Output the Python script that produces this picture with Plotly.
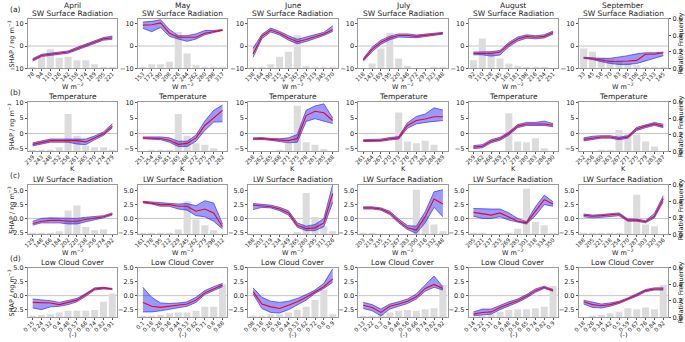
import plotly.graph_objects as go

months = ["April", "May", "June", "July", "August", "September"]
row_titles = ["SW Surface Radiation", "Temperature", "LW Surface Radiation", "Low Cloud Cover"]
row_letters = ["(a)", "(b)", "(c)", "(d)"]
x_units = ["W m<sup>−2</sup>", "K", "W m<sup>−2</sup>", "(-)"]

# ---------------- SW surface radiation ----------------
sw_bins = [
    ["78", "94", "110", "126", "142", "158", "174", "189", "205", "221"],
    ["153", "172", "190", "208", "226", "244", "262", "280", "298", "317"],
    ["138", "164", "190", "215", "241", "267", "293", "319", "345", "370"],
    ["118", "143", "169", "195", "220", "246", "272", "297", "323", "348"],
    ["92", "110", "128", "145", "163", "181", "198", "216", "234", "251"],
    ["33", "45", "58", "70", "83", "95", "108", "120", "133", "145"]]
sw_mean = [
    [-6.2, -4.2, -3.7, -3.3, -2.7, -1.2, 0.3, 1.8, 3.2, 3.7],
    [9.3, 9.5, 10.3, 5.7, 3.9, 3.9, 3.9, 5.7, 6.4, 7.1],
    [-3.6, 4.3, 7.1, 5.7, 3.6, 1.9, 2.9, 4.0, 5.4, 7.4],
    [-6.2, -1.5, 1.7, 3.6, 4.7, 4.7, 4.3, 4.7, 5.3, 5.7],
    [-3.3, -3.3, -3.3, -2.7, 0.7, 3.1, 4.3, 3.9, 4.3, 6.0],
    [-5.2, -5.6, -6.2, -6.9, -6.9, -6.7, -6.4, -3.7, -3.7, -3.0]]
sw_low = [
    [-6.8, -4.7, -4.2, -3.8, -3.2, -1.8, -0.3, 1.2, 2.6, 3.0],
    [7.9, 6.4, 8.3, 4.3, 3.1, 2.1, 3.1, 5.0, 6.0, 6.9],
    [-5.0, 3.3, 6.3, 4.9, 2.6, 1.0, 2.0, 3.2, 4.7, 6.5],
    [-6.8, -2.5, 0.8, 2.8, 4.0, 4.0, 3.7, 4.2, 4.9, 5.3],
    [-3.9, -3.9, -4.5, -4.0, -0.3, 2.2, 3.5, 3.2, 3.6, 5.3],
    [-5.5, -6.0, -7.0, -7.8, -8.2, -8.2, -7.8, -6.7, -5.5, -4.3]]
sw_high = [
    [-5.6, -3.7, -3.2, -2.8, -2.2, -0.6, 0.9, 2.4, 3.8, 4.4],
    [10.7, 11.0, 11.7, 7.4, 4.6, 4.6, 5.4, 6.9, 6.9, 7.4],
    [-1.0, 5.2, 8.0, 6.5, 4.6, 3.0, 4.0, 5.0, 6.1, 9.0],
    [-5.6, -0.5, 2.6, 4.4, 5.4, 5.4, 4.9, 5.2, 5.7, 6.1],
    [-2.7, -2.7, -2.5, -2.0, 1.6, 4.0, 5.0, 4.6, 5.0, 6.7],
    [-5.0, -5.3, -5.5, -5.5, -5.0, -4.3, -3.5, -3.0, -3.0, -2.7]]
sw_freq = [
    [0.01, 0.14, 0.23, 0.13, 0.14, 0.10, 0.10, 0.05, 0.02, 0.01],
    [0.02, 0.05, 0.05, 0.08, 0.44, 0.18, 0.04, 0.01, 0.01, 0.01],
    [0.01, 0.01, 0.05, 0.14, 0.20, 0.40, 0.03, 0.01, 0.01, 0.02],
    [0.00, 0.06, 0.24, 0.43, 0.12, 0.03, 0.00, 0.00, 0.01, 0.01],
    [0.10, 0.36, 0.20, 0.12, 0.06, 0.03, 0.01, 0.01, 0.01, 0.00],
    [0.24, 0.20, 0.13, 0.11, 0.08, 0.06, 0.04, 0.02, 0.01, 0.01]]

# ---------------- Temperature ----------------
t_bins = [
    ["239", "243", "248", "252", "256", "261", "265", "270", "274", "279"],
    ["251", "254", "258", "261", "265", "268", "272", "275", "279", "282"],
    ["258", "262", "265", "268", "271", "275", "278", "281", "285", "288"],
    ["261", "264", "267", "270", "273", "276", "279", "282", "286", "289"],
    ["259", "262", "266", "269", "273", "276", "280", "283", "286", "290"],
    ["252", "256", "260", "263", "267", "271", "275", "279", "283", "287"]]
t_mean = [
    [-3.5, -2.8, -2.3, -2.3, -2.3, -2.3, -2.7, -1.4, -0.1, 2.4],
    [-1.4, -1.4, -1.6, -2.2, -3.5, -3.2, -1.4, 2.6, 5.1, 7.5],
    [-1.7, -1.6, -1.9, -2.2, -2.3, -1.6, 5.8, 7.2, 6.7, 4.2],
    [-2.3, -2.2, -2.2, -1.7, -1.4, 2.6, 4.2, 4.7, 5.4, 5.4],
    [-4.4, -4.1, -2.5, -1.7, 0.0, 2.4, 3.1, 3.1, 3.1, 2.7],
    [-1.9, -1.4, -1.1, -1.1, -1.6, -1.1, 1.5, 2.4, 3.1, 2.4]]
t_low = [
    [-4.0, -3.3, -2.8, -2.8, -2.8, -3.4, -3.6, -2.0, -0.6, 1.8],
    [-1.7, -1.8, -2.0, -2.8, -4.2, -4.2, -2.5, 1.0, 3.7, 3.8],
    [-2.0, -1.9, -2.2, -2.6, -3.0, -2.8, 3.9, 4.8, 4.0, 3.2],
    [-2.6, -2.5, -2.5, -2.1, -1.8, 1.7, 3.1, 3.6, 3.9, 4.2],
    [-4.9, -4.6, -3.0, -2.2, -0.5, 1.9, 2.6, 2.6, 2.6, 2.2],
    [-2.4, -1.9, -1.5, -1.5, -2.0, -1.5, 1.0, 1.9, 2.6, 1.9]]
t_high = [
    [-3.0, -2.3, -1.8, -1.8, -1.8, -1.6, -1.8, -0.8, 0.5, 3.2],
    [-1.1, -1.1, -1.1, -1.4, -2.5, -2.5, -0.5, 4.0, 7.5, 9.2],
    [-1.4, -1.3, -1.6, -1.7, -1.4, -0.3, 7.5, 8.9, 9.6, 5.0],
    [-2.0, -1.9, -1.8, -1.3, -1.0, 3.5, 5.5, 6.3, 8.3, 7.6],
    [-3.9, -3.6, -2.0, -1.2, 0.5, 2.9, 3.6, 3.6, 4.0, 3.2],
    [-1.4, -0.9, -0.7, -0.7, -1.2, -0.7, 2.0, 2.9, 3.6, 3.0]]
t_freq = [
    [0.01, 0.01, 0.02, 0.05, 0.45, 0.19, 0.07, 0.05, 0.05, 0.01],
    [0.00, 0.01, 0.01, 0.02, 0.45, 0.19, 0.10, 0.08, 0.04, 0.00],
    [0.00, 0.00, 0.00, 0.01, 0.10, 0.55, 0.11, 0.08, 0.03, 0.00],
    [0.00, 0.00, 0.00, 0.00, 0.47, 0.12, 0.10, 0.13, 0.08, 0.00],
    [0.00, 0.00, 0.00, 0.00, 0.46, 0.12, 0.11, 0.16, 0.04, 0.00],
    [0.00, 0.00, 0.01, 0.02, 0.26, 0.22, 0.20, 0.12, 0.06, 0.00]]

# ---------------- LW surface radiation ----------------
lw_bins = [
    ["129", "148", "166", "184", "202", "220", "238", "256", "274", "292"],
    ["161", "178", "195", "212", "229", "245", "262", "279", "296", "312"],
    ["188", "203", "219", "234", "249", "265", "280", "295", "311", "326"],
    ["203", "219", "235", "251", "267", "283", "300", "316", "332", "348"],
    ["205", "221", "237", "253", "269", "285", "301", "318", "334", "350"],
    ["188", "205", "221", "238", "254", "270", "287", "303", "320", "336"]]
lw_mean = [
    [-0.9, -0.5, -0.35, -0.35, -0.5, -0.5, -0.2, 0.0, 0.3, 0.8],
    [3.0, 2.8, 2.5, 2.5, 2.2, 2.2, 1.3, 1.7, 1.0, -1.5],
    [2.4, 2.3, 2.1, 1.7, 1.0, -1.25, -1.85, -1.7, -0.8, 4.5],
    [1.9, 1.9, 1.7, 1.0, -0.5, -1.7, -2.1, 0.3, 3.5, 2.6],
    [1.1, 0.8, 0.6, 1.0, 0.3, -0.5, -0.8, 1.3, 3.4, 2.6],
    [0.6, 0.4, 0.5, 0.7, 0.8, -0.3, -0.3, -0.6, 0.4, 3.6]]
lw_low = [
    [-1.2, -0.8, -0.8, -0.8, -1.0, -1.0, -0.6, -0.3, 0.1, 0.6],
    [2.8, 2.6, 2.2, 2.2, 1.7, 1.5, 0.5, 0.3, -0.5, -1.9],
    [1.6, 2.0, 1.9, 1.4, 0.6, -1.6, -2.2, -2.2, -1.5, 2.9],
    [1.7, 1.7, 1.5, 0.7, -0.8, -2.0, -2.7, -0.8, 2.0, 0.3],
    [0.4, 0.0, 0.0, 0.3, -0.3, -0.7, -1.0, 0.5, 2.5, 2.2],
    [0.3, 0.1, 0.2, 0.4, 0.5, -0.5, -0.5, -0.8, 0.1, 3.0]]
lw_high = [
    [-0.5, 0.0, 0.1, 0.1, 0.0, 0.0, 0.2, 0.3, 0.5, 1.0],
    [3.1, 3.0, 2.8, 2.8, 2.6, 2.7, 2.3, 3.2, 2.8, -1.0],
    [2.7, 2.6, 2.4, 2.0, 1.4, -0.8, -1.4, -1.1, 0.0, 6.1],
    [2.1, 2.1, 1.9, 1.3, -0.1, -1.3, -1.4, 1.2, 4.8, 5.2],
    [1.8, 1.7, 1.7, 1.7, 1.0, 0.0, -0.6, 2.1, 4.2, 3.0],
    [0.8, 0.6, 0.7, 0.9, 1.0, -0.1, -0.1, -0.4, 0.9, 4.1]]
lw_freq = [
    [0.01, 0.01, 0.01, 0.04, 0.29, 0.35, 0.09, 0.05, 0.06, 0.00],
    [0.01, 0.01, 0.01, 0.01, 0.06, 0.40, 0.18, 0.11, 0.05, 0.00],
    [0.00, 0.00, 0.00, 0.00, 0.00, 0.03, 0.50, 0.21, 0.10, 0.04],
    [0.01, 0.01, 0.00, 0.00, 0.00, 0.00, 0.54, 0.22, 0.12, 0.04],
    [0.01, 0.01, 0.00, 0.00, 0.01, 0.07, 0.55, 0.15, 0.11, 0.01],
    [0.01, 0.01, 0.01, 0.01, 0.01, 0.18, 0.48, 0.12, 0.10, 0.00]]

# ---------------- Low cloud cover ----------------
lcc_bins = [
    ["0.15", "0.24", "0.32", "0.4", "0.48", "0.57", "0.66", "0.74", "0.82", "0.91"],
    ["0.1", "0.18", "0.28", "0.36", "0.44", "0.53", "0.62", "0.71", "0.8", "0.88"],
    ["0.08", "0.18", "0.26", "0.36", "0.44", "0.53", "0.62", "0.72", "0.8", "0.9"],
    ["0.13", "0.22", "0.3", "0.4", "0.48", "0.56", "0.66", "0.74", "0.82", "0.92"],
    ["0.14", "0.22", "0.31", "0.4", "0.48", "0.56", "0.65", "0.74", "0.82", "0.9"],
    ["0.18", "0.26", "0.34", "0.42", "0.5", "0.59", "0.67", "0.76", "0.84", "0.92"]]
lcc_mean = [
    [-1.2, -1.2, -1.3, -1.6, -1.2, -0.8, 0.2, 1.2, 1.4, 1.2],
    [-1.2, -1.9, -2.1, -1.9, -1.8, -1.5, -0.8, 0.5, 1.2, 1.9],
    [0.7, -1.5, -2.0, -2.3, -1.7, -1.1, -0.3, 0.7, 1.6, 3.0],
    [-1.7, -2.1, -3.0, -1.9, -1.5, -1.0, -0.2, 1.3, 2.0, 1.3],
    [-3.3, -3.0, -2.9, -2.1, -1.5, -0.9, -0.1, 0.9, 1.5, 0.9],
    [-1.1, -1.6, -1.8, -1.6, -1.2, -0.6, 0.1, 0.9, 1.2, 1.2]]
lcc_low = [
    [-2.2, -2.5, -2.0, -1.9, -1.6, -1.1, -0.1, 1.0, 1.2, 1.1],
    [-2.9, -2.9, -2.7, -2.4, -2.2, -1.9, -1.2, 0.2, 0.9, 1.6],
    [0.3, -2.3, -3.0, -3.1, -2.5, -1.7, -0.8, 0.4, 1.3, 2.4],
    [-2.3, -2.7, -3.6, -2.4, -1.9, -1.4, -0.6, 0.8, 1.5, 1.0],
    [-3.6, -3.5, -3.3, -2.5, -1.9, -1.2, -0.4, 0.6, 1.3, 0.8],
    [-1.5, -2.1, -2.2, -1.9, -1.4, -0.8, -0.1, 0.7, 1.0, 1.0]]
lcc_high = [
    [-0.6, -0.7, -0.9, -1.2, -0.9, -0.5, 0.4, 1.4, 1.5, 1.3],
    [1.5, -0.3, -1.3, -1.4, -1.3, -1.1, -0.3, 0.9, 1.6, 2.2],
    [1.4, -0.3, -1.0, -1.2, -1.0, -0.5, 0.2, 1.0, 2.2, 4.8],
    [-1.2, -1.6, -2.4, -1.5, -1.1, -0.6, 0.3, 2.0, 3.5, 1.6],
    [-2.9, -2.4, -2.4, -1.7, -1.1, -0.6, 0.2, 1.2, 1.7, 1.1],
    [-0.8, -1.2, -1.5, -1.3, -1.0, -0.4, 0.3, 1.1, 1.4, 1.4]]
lcc_freq = [
    [0.01, 0.03, 0.04, 0.06, 0.08, 0.08, 0.08, 0.09, 0.19, 0.29],
    [0.01, 0.02, 0.03, 0.05, 0.06, 0.06, 0.08, 0.13, 0.13, 0.40],
    [0.01, 0.02, 0.04, 0.04, 0.06, 0.09, 0.13, 0.21, 0.33, 0.04],
    [0.01, 0.02, 0.04, 0.06, 0.08, 0.09, 0.08, 0.10, 0.11, 0.39],
    [0.00, 0.01, 0.04, 0.07, 0.09, 0.10, 0.10, 0.11, 0.13, 0.38],
    [0.00, 0.01, 0.03, 0.05, 0.07, 0.11, 0.10, 0.12, 0.10, 0.39]]

shap_ranges = [[-10, 12.2], [-5.8, 10.3], [-2.9, 6.1], [-3.9, 5.0]]
shap_ticks = [[-10, 0, 10], [-5, 0, 5, 10], [-2.5, 0, 2.5, 5], [-2.5, 0, 2.5, 5]]
shap_fmt = ["d", "d", ".1f", ".1f"]
freq_ticks = [0.0, 0.2, 0.4, 0.6]

rows = [
    (sw_bins, sw_mean, sw_low, sw_high, sw_freq),
    (t_bins, t_mean, t_low, t_high, t_freq),
    (lw_bins, lw_mean, lw_low, lw_high, lw_freq),
    (lcc_bins, lcc_mean, lcc_low, lcc_high, lcc_freq),
]

# layout geometry (pixels)
FW, FH = 685, 342
LEFTS = [23, 134, 245, 356, 467, 578]
PW = 90
TOPS = [15, 100, 185, 270]
PH = 51
FONT = "DejaVu Sans"
XTICKF = dict(family=FONT, size=5.6, color="#222")
YTICKF = dict(family=FONT, size=6.5, color="#222")
FRAME = "#9a9a9a"


def ax_id(prefix, n):
    return prefix if n == 1 else f"{prefix}{n}"


fig = go.Figure()
layout = dict(
    width=FW, height=FH, autosize=False,
    margin=dict(l=0, r=0, t=0, b=0),
    paper_bgcolor="white", plot_bgcolor="white",
    showlegend=False, bargap=0.2,
    font=dict(family=FONT, size=7, color="#222"),
)
annotations = []
shapes = []

for r in range(4):
    bins, mean, low, high, freq = rows[r]
    for c in range(6):
        k = r * 6 + c + 1
        xa = ax_id("x", k)
        yf = ax_id("y", 2 * k - 1)
        ys = ax_id("y", 2 * k)
        x0 = LEFTS[c] / FW
        x1 = (LEFTS[c] + PW) / FW
        y1 = 1 - TOPS[r] / FH
        y0 = 1 - (TOPS[r] + PH) / FH
        cats = bins[c]

        fig.add_trace(go.Bar(x=cats, y=freq[c], xaxis=xa, yaxis=yf,
                             marker=dict(color="#dcdcdc", line=dict(width=0)),
                             width=0.8, hoverinfo="skip"))
        fig.add_trace(go.Scatter(x=cats, y=low[c], xaxis=xa, yaxis=ys, mode="lines",
                                 line=dict(color="rgba(40,40,255,0.75)", width=0.9),
                                 hoverinfo="skip"))
        fig.add_trace(go.Scatter(x=cats, y=high[c], xaxis=xa, yaxis=ys, mode="lines",
                                 line=dict(color="rgba(40,40,255,0.75)", width=0.9),
                                 fill="tonexty", fillcolor="rgba(0,0,255,0.40)",
                                 hoverinfo="skip"))
        fig.add_trace(go.Scatter(x=cats, y=mean[c], xaxis=xa, yaxis=ys, mode="lines",
                                 line=dict(color="red", width=1.1), hoverinfo="skip"))

        layout["xaxis" + xa[1:]] = dict(
            domain=[x0, x1], anchor=yf, type="category",
            categoryorder="array", categoryarray=cats,
            range=[-0.55, 9.55], tickmode="linear", tick0=0, dtick=1,
            tickangle=-45, tickfont=XTICKF, ticks="outside", ticklen=2,
            ticklabelstandoff=-3,
            tickcolor="#555", showline=True, linecolor=FRAME, linewidth=1,
            mirror=True, showgrid=False, zeroline=False,
        )
        layout["yaxis" + yf[1:]] = dict(
            domain=[y0, y1], anchor=xa, side="right", range=[0, 0.6],
            tickmode="array", tickvals=freq_ticks, tickformat=".1f",
            showticklabels=(c == 5), ticks="outside" if c == 5 else "",
            ticklen=2, tickcolor="#555", tickfont=YTICKF,
            showline=True, linecolor=FRAME, linewidth=1,
            showgrid=False, zeroline=False,
        )
        layout["yaxis" + ys[1:]] = dict(
            overlaying=yf, anchor=xa, side="left", range=shap_ranges[r],
            tickmode="array", tickvals=shap_ticks[r], tickformat=shap_fmt[r],
            ticks="outside", ticklen=2, tickcolor="#555", tickfont=YTICKF,
            showline=True, linecolor=FRAME, linewidth=1,
            showgrid=False, zeroline=False,
        )
        shapes.append(dict(type="line", xref=f"{xa} domain", yref=ys,
                           x0=0, x1=1, y0=0, y1=0, layer="below",
                           line=dict(color="#c4c4c4", width=1)))

        cx = (LEFTS[c] + PW / 2) / FW
        annotations.append(dict(text=row_titles[r], x=cx, y=1 - (TOPS[r] + 1) / FH,
                                xref="paper", yref="paper", xanchor="center",
                                yanchor="bottom", showarrow=False,
                                font=dict(family=FONT, size=7.5, color="#222")))
        if r == 0:
            annotations.append(dict(text=months[c], x=cx, y=1 - (TOPS[r] - 7) / FH,
                                    xref="paper", yref="paper", xanchor="center",
                                    yanchor="bottom", showarrow=False,
                                    font=dict(family=FONT, size=7.5, color="#222")))
        annotations.append(dict(text=x_units[r], x=cx, y=1 - (TOPS[r] + PH + 18) / FH,
                                xref="paper", yref="paper", xanchor="center",
                                yanchor="middle", showarrow=False,
                                font=dict(family=FONT, size=6.5, color="#222")))
        if c == 0:
            annotations.append(dict(text="SHAP / ng m<sup>−3</sup>", x=7 / FW,
                                    y=1 - (TOPS[r] + PH / 2) / FH,
                                    xref="paper", yref="paper", xanchor="center",
                                    yanchor="middle", textangle=-90, showarrow=False,
                                    font=dict(family=FONT, size=6.5, color="#222")))
            annotations.append(dict(text=row_letters[r], x=3 / FW,
                                    y=1 - (TOPS[r] - 9) / FH,
                                    xref="paper", yref="paper", xanchor="left",
                                    yanchor="middle", showarrow=False,
                                    font=dict(family=FONT, size=7.5, color="#222")))
        if c == 5:
            annotations.append(dict(text="Relative Frequency", x=681 / FW,
                                    y=1 - (TOPS[r] + PH / 2) / FH,
                                    xref="paper", yref="paper", xanchor="center",
                                    yanchor="middle", textangle=-90, showarrow=False,
                                    font=dict(family=FONT, size=6.5, color="#222")))

layout["annotations"] = annotations
layout["shapes"] = shapes
fig.update_layout(**layout)
fig.write_html(
    "out.html",
    config={"displayModeBar": False},
    post_script="document.body.style.margin='0px';document.body.style.overflow='hidden';",
)
